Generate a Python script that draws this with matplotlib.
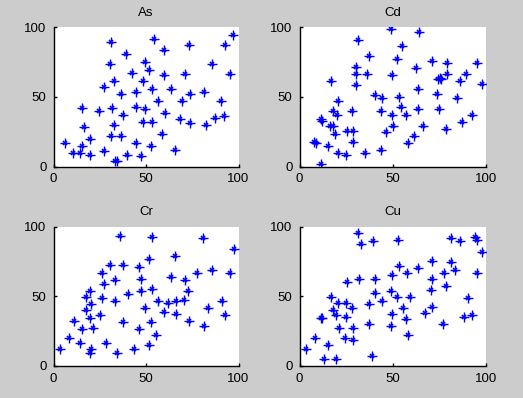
import matplotlib
matplotlib.use("Agg")
import matplotlib.pyplot as plt

# data (x, y pairs, 0-100 scale)
as_x = [6.0, 10.5, 14.4, 15.3, 15.3, 16.6, 19.9, 19.9, 24.5, 27.4, 27.4, 31.2, 30.3, 31.6, 32.5,
        32.5, 31.2, 33.0, 34.3, 36.6, 36.6, 37.5, 39.0, 39.7, 42.4, 44.8, 44.8, 44.8, 47.5, 48.4,
        48.4, 49.6, 49.6, 51.4, 52.9, 53.4, 53.4, 54.5, 56.5, 58.7, 59.7, 59.7, 60.5, 63.7, 65.7,
        68.2, 69.5, 71.3, 73.3, 73.6, 73.6, 81.2, 82.3, 85.7, 87.4, 90.4, 92.1, 92.6, 95.5, 96.8]
as_y = [16.7, 9.6, 9.6, 14.4, 41.9, 28.2, 19.6, 8.4, 40.0, 56.9, 11.2, 89.2, 73.4, 41.9, 61.5,
        29.9, 22.0, 4.3, 3.6, 22.0, 51.9, 36.6, 80.9, 8.4, 67.0, 53.3, 42.3, 16.7, 7.2, 61.0,
        31.8, 74.6, 41.4, 69.4, 14.8, 31.8, 55.7, 91.4, 46.7, 23.4, 83.7, 65.8, 38.3, 55.7, 11.5,
        34.2, 46.7, 66.5, 86.8, 51.9, 31.1, 53.3, 29.9, 73.7, 34.7, 46.7, 36.4, 87.3, 66.5, 94.5]

cd_x = [8.0, 8.8, 11.6, 11.6, 12.0, 15.2, 16.4, 17.7, 16.8, 17.7, 19.1, 20.0, 20.9, 20.9, 24.8,
        25.5, 28.4, 28.6, 28.6, 30.4, 30.4, 30.4, 31.6, 35.2, 36.1, 37.5, 40.5, 43.6, 43.6, 44.5,
        46.4, 48.9, 49.8, 49.8, 50.4, 52.3, 53.6, 54.5, 54.8, 57.1, 58.4, 61.6, 62.3, 63.8, 63.8,
        64.3, 66.4, 70.9, 73.6, 74.1, 74.8, 75.4, 75.9, 78.4, 79.3, 79.3, 84.6, 86.1, 87.3, 89.3,
        92.3, 95.2, 97.7]
cd_y = [17.9, 17.2, 1.9, 34.0, 32.3, 14.4, 28.7, 28.7, 61.5, 40.0, 23.2, 36.6, 46.7, 9.6, 8.4,
        25.1, 40.0, 25.8, 17.9, 71.1, 66.5, 58.6, 90.9, 9.6, 66.5, 79.4, 51.4, 40.0, 11.5, 49.0,
        24.6, 98.6, 65.8, 36.6, 29.2, 77.0, 49.8, 42.3, 86.1, 36.6, 16.7, 22.0, 70.6, 41.4, 55.7,
        96.4, 29.2, 75.8, 51.9, 62.9, 41.4, 63.4, 62.9, 27.0, 66.5, 74.2, 49.0, 61.0, 31.8, 66.5,
        36.6, 74.2, 59.1]

cr_x = [3.6, 8.3, 11.2, 14.4, 15.3, 17.3, 17.7, 19.9, 19.9, 20.4, 20.0, 19.9, 21.3, 24.9, 26.0,
        26.0, 27.3, 28.5, 30.7, 33.0, 33.4, 34.3, 36.1, 37.5, 37.5, 40.3, 43.7, 46.0, 46.0, 47.3,
        47.3, 49.6, 51.4, 51.6, 52.9, 53.2, 53.4, 55.4, 56.7, 59.9, 62.1, 63.4, 65.7, 66.1, 66.4,
        70.4, 71.3, 72.9, 73.5, 77.3, 81.0, 81.4, 83.6, 85.7, 91.3, 92.8, 95.5, 97.7]
cr_y = [12.0, 20.3, 32.3, 16.3, 26.3, 49.3, 40.2, 54.1, 34.2, 44.3, 12.0, 9.1, 27.5, 36.6, 66.5,
        48.6, 58.9, 16.7, 72.5, 61.7, 46.7, 9.1, 93.5, 72.5, 31.3, 51.7, 12.0, 71.3, 26.6, 62.4,
        54.1, 41.4, 76.8, 15.1, 31.3, 55.0, 92.3, 22.2, 46.7, 39.0, 45.0, 63.6, 78.9, 37.1, 46.7,
        47.4, 61.7, 54.1, 32.3, 67.0, 91.6, 28.9, 41.9, 68.9, 46.7, 36.6, 66.5, 83.7]

cu_x = [3.6, 8.4, 11.6, 12.3, 12.9, 15.2, 16.8, 17.9, 19.6, 19.6, 20.9, 21.4, 24.8, 24.8, 24.5,
        25.5, 28.0, 28.6, 28.6, 31.6, 33.0, 31.8, 37.3, 37.5, 38.8, 39.6, 40.5, 40.5, 44.5, 48.8,
        48.8, 49.8, 49.8, 52.5, 52.7, 53.6, 55.5, 57.3, 57.5, 58.4, 59.5, 63.8, 67.3, 70.9, 70.9,
        70.9, 70.5, 76.8, 77.7, 78.4, 81.3, 81.3, 83.6, 86.3, 88.4, 90.5, 92.3, 94.3, 95.2, 95.2,
        97.7]
cu_y = [12.0, 20.3, 34.2, 34.2, 4.8, 15.1, 49.8, 40.2, 36.6, 4.8, 45.0, 27.5, 34.9, 45.0, 20.3,
        60.5, 41.4, 27.0, 18.7, 95.2, 87.3, 62.4, 44.3, 29.9, 7.2, 89.7, 62.4, 52.6, 46.7, 54.1,
        28.7, 37.1, 65.3, 49.8, 90.0, 71.8, 41.4, 33.5, 67.0, 22.2, 49.8, 70.1, 38.3, 42.6, 75.4,
        62.4, 54.5, 30.1, 66.5, 57.4, 92.1, 74.2, 68.9, 89.7, 34.9, 48.6, 36.6, 92.8, 90.4, 67.0,
        81.6]

titles = ["As", "Cd", "Cr", "Cu"]
xs = [as_x, cd_x, cr_x, cu_x]
ys = [as_y, cd_y, cr_y, cu_y]
ticks = [0, 50, 100]

plt.rcParams['font.family'] = ['Liberation Sans', 'DejaVu Sans']
plt.rcParams['font.size'] = 9

W, H = 523, 398
fig = plt.figure(figsize=(W / 100, H / 100), dpi=100, facecolor='#cccccc')

# axes boxes in pixels: left, top, right, bottom
boxes = [(53.5, 27, 238.5, 166.5), (299.5, 27, 486, 166.5),
         (53.5, 226.5, 238.5, 366), (299.5, 226.5, 486, 366)]

for (l, t, r, b), title, x, y in zip(boxes, titles, xs, ys):
    ax = fig.add_axes([l / W, 1 - b / H, (r - l) / W, (b - t) / H])
    ax.set_facecolor('white')
    # matlab style '*' marker: long plus with a short cross in the middle
    ax.plot(x, y, linestyle='none', marker='+', markersize=7,
            color='#0000ff', markeredgewidth=1.0)
    ax.plot(x, y, linestyle='none', marker='x', markersize=3.2,
            color='#0000ff', markeredgewidth=1.2)
    ax.set_xlim(0, 100)
    ax.set_ylim(0, 100)
    ax.set_xticks(ticks)
    ax.set_yticks(ticks)
    ax.spines['top'].set_visible(False)
    ax.spines['right'].set_visible(False)
    for s in ['left', 'bottom']:
        ax.spines[s].set_linewidth(1.0)
    ax.tick_params(direction='in', length=2.5, width=1, pad=5, labelsize=9.5)
    ax.set_title(title, fontsize=9.5, pad=8)

fig.savefig("out.png", dpi=100, facecolor=fig.get_facecolor())
